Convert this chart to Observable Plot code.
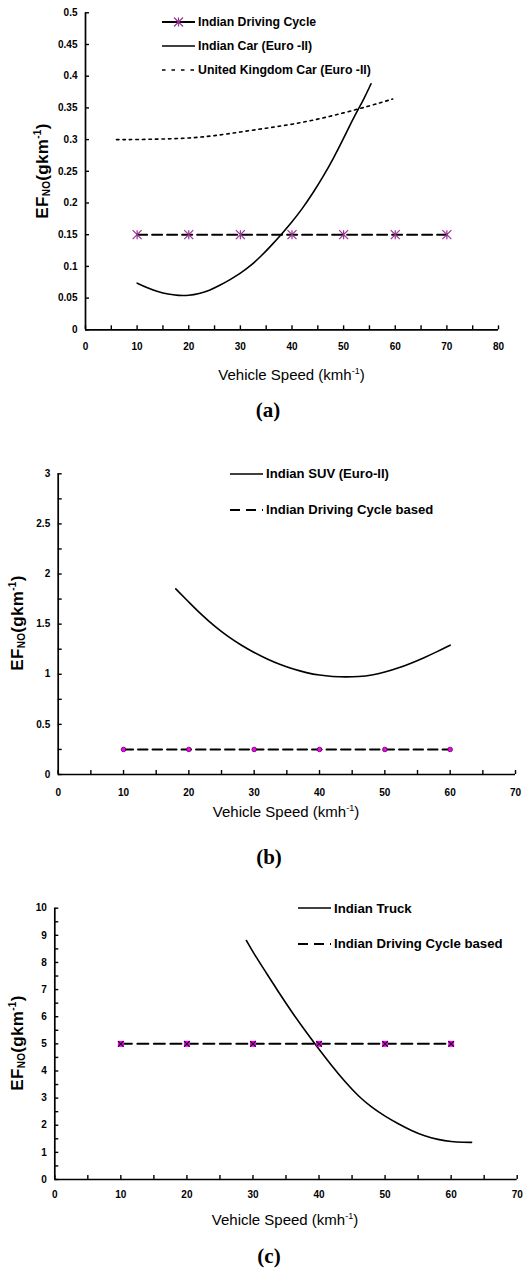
<!DOCTYPE html>
<html><head><meta charset="utf-8">
<script src="https://cdn.jsdelivr.net/npm/d3@7"></script>
<script src="https://cdn.jsdelivr.net/npm/@observablehq/plot@0.6"></script>
<style>
body{margin:0;background:#fff}
#root{position:relative;width:526px;height:1271px;overflow:hidden;font-family:"Liberation Sans",Arial,sans-serif;color:#000}
.abs{position:absolute;white-space:nowrap}
.ytitle{font-weight:bold;font-size:17px;width:200px;height:22px;line-height:22px;text-align:center;transform:rotate(-90deg);letter-spacing:0.3px}
.ytitle .sub{font-size:10px;position:relative;top:2px}
.ytitle .sup{font-size:10px;position:relative;top:-7px}
.xtitle{font-size:15px;width:300px;height:20px;line-height:20px;text-align:center}
.xtitle .sup{font-size:9px;position:relative;top:-6px}
.cap{font-family:"Liberation Serif","Times New Roman",serif;font-weight:bold;font-size:21px;width:60px;height:26px;line-height:26px;text-align:center}
.leg{font-weight:bold;height:16px;display:flex;align-items:center}
.leg svg{display:block;margin-right:3px}
</style></head>
<body><div id="root"></div>
<script>
// ---------- data ----------
// Panel (a)
const cycleSpeedA = [10, 20, 30, 40, 50, 60, 70];
const cycleEFA = [0.15, 0.15, 0.15, 0.15, 0.15, 0.15, 0.15];
const carIndiaSpeed = [10, 12, 14, 16, 18, 20, 22, 24, 26, 28, 30, 32, 34, 36, 38, 40, 42, 44, 46, 48, 50, 52, 54, 55.3];
const carIndiaEF = [0.0736, 0.066, 0.060, 0.056, 0.054, 0.054, 0.057, 0.062, 0.070, 0.079, 0.089, 0.101, 0.116, 0.133, 0.151, 0.170, 0.191, 0.215, 0.241, 0.270, 0.302, 0.336, 0.365, 0.388];
const carUKSpeed = [6, 10, 15, 20, 25, 30, 35, 40, 45, 50, 55, 59.5];
const carUKEF = [0.300, 0.300, 0.301, 0.302, 0.306, 0.312, 0.318, 0.324, 0.332, 0.342, 0.353, 0.364];
const xTicksA = [0, 10, 20, 30, 40, 50, 60, 70, 80];
const xMinorA = [5, 15, 25, 35, 45, 55, 65, 75];
const yTicksA = [0, 0.05, 0.1, 0.15, 0.2, 0.25, 0.3, 0.35, 0.4, 0.45, 0.5];

// Panel (b)
const cycleSpeedB = [10, 20, 30, 40, 50, 60];
const cycleEFB = [0.25, 0.25, 0.25, 0.25, 0.25, 0.25];
const suvSpeed = [18, 20, 22, 24, 26, 28, 30, 32, 34, 36, 38, 40, 42, 44, 46, 48, 50, 52, 54, 56, 58, 60];
const suvEF = [1.852, 1.72, 1.59, 1.475, 1.375, 1.29, 1.215, 1.15, 1.095, 1.05, 1.015, 0.99, 0.977, 0.972, 0.976, 0.99, 1.02, 1.06, 1.11, 1.165, 1.225, 1.29];
const xTicksB = [0, 10, 20, 30, 40, 50, 60, 70];
const xMinorB = [5, 15, 25, 35, 45, 55, 65];
const yTicksB = [0, 0.5, 1, 1.5, 2, 2.5, 3];
const yMinorB = [0.25, 0.75, 1.25, 1.75, 2.25, 2.75];

// Panel (c)
const cycleSpeedC = [10, 20, 30, 40, 50, 60];
const cycleEFC = [5, 5, 5, 5, 5, 5];
const truckSpeed = [29, 30, 32, 34, 36, 38, 40, 42, 44, 46, 48, 50, 52, 54, 56, 58, 60, 62, 63.1];
const truckEF = [8.81, 8.38, 7.62, 6.86, 6.13, 5.45, 4.8, 4.17, 3.58, 3.06, 2.65, 2.33, 2.05, 1.80, 1.60, 1.47, 1.39, 1.37, 1.37];
const xTicksC = [0, 10, 20, 30, 40, 50, 60, 70];
const xMinorC = [5, 15, 25, 35, 45, 55, 65];
const yTicksC = [0, 1, 2, 3, 4, 5, 6, 7, 8, 9, 10];
const yMinorC = [0.5, 1.5, 2.5, 3.5, 4.5, 5.5, 6.5, 7.5, 8.5, 9.5];

// ---------- helpers ----------
const zip = (xs, ys) => xs.map((x, i) => ({x, y: ys[i]}));
const asteriskSymbol = {
  draw(ctx, size) {
    const r = Math.sqrt(size / Math.PI);
    ctx.moveTo(0, -r); ctx.lineTo(0, r);
    ctx.moveTo(-r, -r); ctx.lineTo(r, r);
    ctx.moveTo(-r, r); ctx.lineTo(r, -r);
  }
};
const FONT = "'Liberation Sans', Arial, sans-serif";

function axisMarks({xMax, yMax, plotW, plotH, xTicks, xMinor, yTicks, yMinor, labelDy}) {
  const tlY = yMax * 4 / plotH, tlX = xMax * 4 / plotW;
  return [
    Plot.ruleX(xTicks.concat(xMinor), {x: d => d, y1: 0, y2: tlY, strokeWidth: 1.4}),
    Plot.ruleY(yTicks.concat(yMinor), {y: d => d, x1: 0, x2: tlX, strokeWidth: 1.4}),
    Plot.ruleY([0], {strokeWidth: 1.7}),
    Plot.ruleX([0], {strokeWidth: 1.7}),
    Plot.text(xTicks, {x: d => d, y: 0, dy: labelDy, text: d => String(d), fontWeight: "bold", fontSize: 10}),
    Plot.text(yTicks, {x: 0, y: d => d, dx: -8, textAnchor: "end", text: d => String(d), fontWeight: "bold", fontSize: 10})
  ];
}

const root = document.getElementById("root");
function place(node, top) {
  const d = document.createElement("div");
  d.className = "abs"; d.style.left = "0px"; d.style.top = top + "px";
  d.appendChild(node); root.appendChild(d);
}
// place an element of fixed size w x h centred on (cx, cy)
function centred(str, cls, cx, cy, w, h) {
  const d = document.createElement("div");
  d.className = "abs " + cls;
  d.style.left = (cx - w / 2) + "px"; d.style.top = (cy - h / 2) + "px";
  d.innerHTML = str; root.appendChild(d);
}
function legendRow(str, left, cy, fontSize) {
  const d = document.createElement("div");
  d.className = "abs leg";
  d.style.left = left + "px"; d.style.top = (cy - 8) + "px"; d.style.fontSize = fontSize + "px";
  d.innerHTML = str; root.appendChild(d);
}
const yTitle = `EF<span class="sub">NO</span>(gkm<span class="sup">-1</span>)`;
const xTitle = `Vehicle Speed (kmh<span class="sup">-1</span>)`;

// ---------- panel (a) ----------
const plotA = Plot.plot({
  width: 526, height: 360,
  marginTop: 12.3, marginBottom: 30.7, marginLeft: 85, marginRight: 28,
  x: {domain: [0, 80], axis: null},
  y: {domain: [0, 0.5], axis: null},
  style: {fontFamily: FONT, background: "transparent", overflow: "visible"},
  marks: [
    ...axisMarks({xMax: 80, yMax: 0.5, plotW: 413, plotH: 317, xTicks: xTicksA, xMinor: xMinorA, yTicks: yTicksA, yMinor: [], labelDy: 17}),
    Plot.line(zip(carUKSpeed, carUKEF), {x: "x", y: "y", strokeWidth: 1.6, strokeDasharray: "2.5,4", curve: "basis"}),
    Plot.line(zip(carIndiaSpeed, carIndiaEF), {x: "x", y: "y", strokeWidth: 1.6, curve: "basis"}),
    Plot.line(zip(cycleSpeedA, cycleEFA), {x: "x", y: "y", strokeWidth: 2, strokeDasharray: "10,5"}),
    Plot.dot(zip(cycleSpeedA, cycleEFA), {x: "x", y: "y", symbol: asteriskSymbol, r: 4.5, fill: "none", stroke: "#993399", strokeWidth: 1.2})
  ]
});
place(plotA, 0);
centred(yTitle, "ytitle", 43, 171, 200, 22);
centred(xTitle, "xtitle", 291.5, 375, 300, 20);
centred("(a)", "cap", 268, 410, 60, 26);
legendRow(`<svg width="33" height="12"><line x1="0" y1="6" x2="33" y2="6" stroke="#000" stroke-width="2"/><path d="M16.5,1.5V10.5M12,1.5L21,10.5M12,10.5L21,1.5" stroke="#993399" stroke-width="1.2" fill="none"/></svg><span>Indian Driving Cycle</span>`, 162, 22, 12.3);
legendRow(`<svg width="33" height="12"><line x1="0" y1="6" x2="33" y2="6" stroke="#000" stroke-width="1.6"/></svg><span>Indian Car (Euro -II)</span>`, 162, 46, 12.3);
legendRow(`<svg width="33" height="12"><line x1="0" y1="6" x2="33" y2="6" stroke="#000" stroke-width="1.6" stroke-dasharray="3.5,6"/></svg><span>United Kingdom Car (Euro -II)</span>`, 162, 70, 12.3);

// ---------- panel (b) ----------
const plotB = Plot.plot({
  width: 526, height: 370,
  marginTop: 33.3, marginBottom: 36, marginLeft: 57.7, marginRight: 11,
  x: {domain: [0, 70], axis: null},
  y: {domain: [0, 3], axis: null},
  style: {fontFamily: FONT, background: "transparent", overflow: "visible"},
  marks: [
    ...axisMarks({xMax: 70, yMax: 3, plotW: 457.3, plotH: 300.7, xTicks: xTicksB, xMinor: xMinorB, yTicks: yTicksB, yMinor: yMinorB, labelDy: 18.3}),
    Plot.line(zip(suvSpeed, suvEF), {x: "x", y: "y", strokeWidth: 1.6, curve: "basis"}),
    Plot.line(zip(cycleSpeedB, cycleEFB), {x: "x", y: "y", strokeWidth: 2, strokeDasharray: "9.5,5"}),
    Plot.dot(zip(cycleSpeedB, cycleEFB), {x: "x", y: "y", r: 2.3, fill: "#ff00ff", stroke: "#4a004a", strokeWidth: 0.8})
  ]
});
place(plotB, 440);
centred(yTitle, "ytitle", 18.3, 623, 200, 22);
centred(xTitle, "xtitle", 286, 812, 300, 20);
centred("(b)", "cap", 269, 857, 60, 26);
legendRow(`<svg width="33" height="12"><line x1="0" y1="6" x2="33" y2="6" stroke="#000" stroke-width="1.6"/></svg><span>Indian SUV (Euro-II)</span>`, 230, 473.5, 13.1);
legendRow(`<svg width="33" height="12"><line x1="0" y1="6" x2="33" y2="6" stroke="#000" stroke-width="2" stroke-dasharray="10,6"/></svg><span>Indian Driving Cycle based</span>`, 230, 509.5, 13.1);

// ---------- panel (c) ----------
const plotC = Plot.plot({
  width: 526, height: 330,
  marginTop: 27.7, marginBottom: 31, marginLeft: 54.3, marginRight: 9.3,
  x: {domain: [0, 70], axis: null},
  y: {domain: [0, 10], axis: null},
  style: {fontFamily: FONT, background: "transparent", overflow: "visible"},
  marks: [
    ...axisMarks({xMax: 70, yMax: 10, plotW: 462.4, plotH: 271.3, xTicks: xTicksC, xMinor: xMinorC, yTicks: yTicksC, yMinor: yMinorC, labelDy: 15.3}),
    Plot.line(zip(truckSpeed, truckEF), {x: "x", y: "y", strokeWidth: 1.6, curve: "basis"}),
    Plot.line(zip(cycleSpeedC, cycleEFC), {x: "x", y: "y", strokeWidth: 2, strokeDasharray: "11,5.5"}),
    Plot.dot(zip(cycleSpeedC, cycleEFC), {x: "x", y: "y", symbol: "square", r: 3.4, fill: "#ff00ff", stroke: "none"}),
    Plot.dot(zip(cycleSpeedC, cycleEFC), {x: "x", y: "y", symbol: "times", r: 2.6, fill: "none", stroke: "#000", strokeWidth: 1.1})
  ]
});
place(plotC, 880);
centred(yTitle, "ytitle", 18.3, 1043, 200, 22);
centred(xTitle, "xtitle", 285, 1220, 300, 20);
centred("(c)", "cap", 269, 1256, 60, 26);
legendRow(`<svg width="33" height="12"><line x1="0" y1="6" x2="33" y2="6" stroke="#000" stroke-width="1.6"/></svg><span>Indian Truck</span>`, 298, 908.3, 13.2);
legendRow(`<svg width="33" height="12"><line x1="0" y1="6" x2="33" y2="6" stroke="#000" stroke-width="2" stroke-dasharray="10,6"/></svg><span>Indian Driving Cycle based</span>`, 298, 943.7, 13.2);
</script>
</body></html>
